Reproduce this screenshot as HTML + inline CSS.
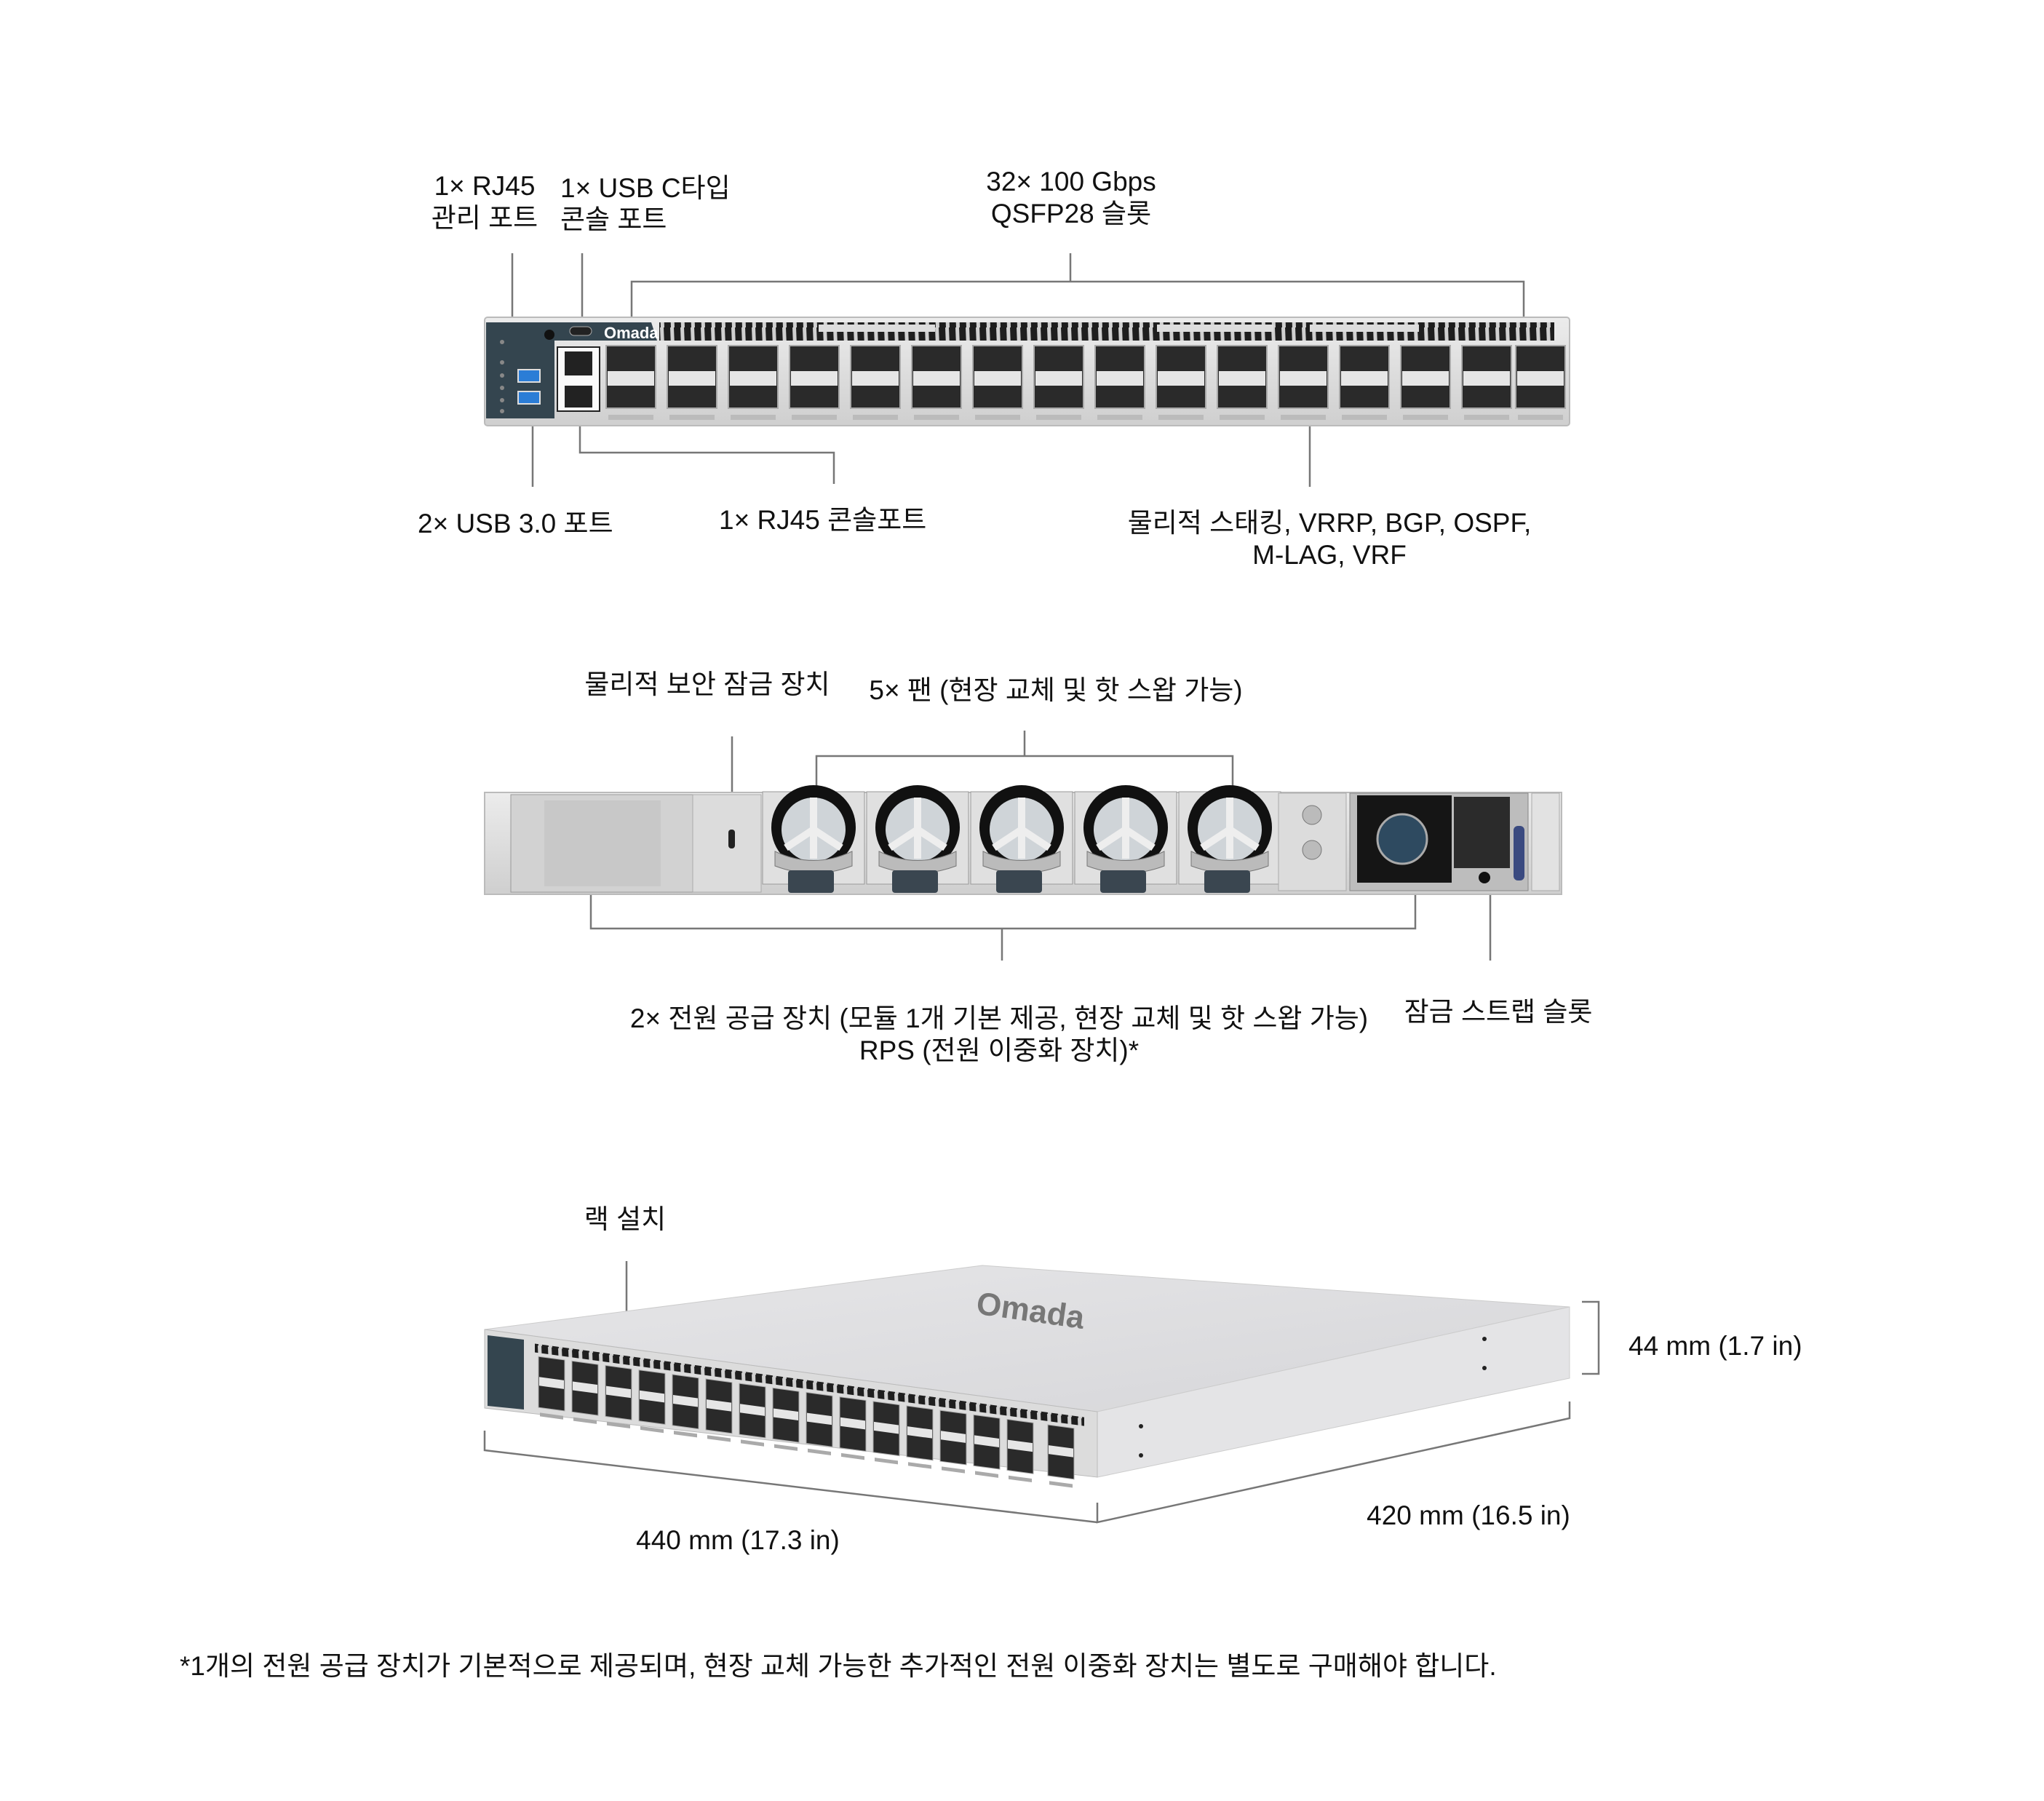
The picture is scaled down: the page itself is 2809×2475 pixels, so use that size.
<!DOCTYPE html>
<html><head><meta charset="utf-8"><style>
html,body{margin:0;padding:0;background:#fff}
svg{display:block}
text{font-family:"Liberation Sans","Noto Sans CJK KR",sans-serif;font-size:37px;fill:#111}
</style></head><body>
<svg width="2809" height="2475" viewBox="0 0 2809 2475" xmlns="http://www.w3.org/2000/svg">
<defs>
<linearGradient id="g1" x1="0" y1="0" x2="0" y2="1"><stop offset="0" stop-color="#ececec"/><stop offset="1" stop-color="#cfcfcf"/></linearGradient>
<linearGradient id="top" x1="0" y1="0" x2="1" y2="1"><stop offset="0" stop-color="#e6e6e8"/><stop offset="1" stop-color="#d6d6d9"/></linearGradient>
<pattern id="vent" x="0" y="0" width="14" height="25" patternUnits="userSpaceOnUse">
<rect width="14" height="25" fill="#d0d0d0"/><polygon points="2,0 11,0 12,25 3,25" fill="#1e1e1e"/>
</pattern>
</defs>
<g stroke="#777" stroke-width="2.5" fill="none">
<polyline points="704,348 704,494 770,494"/>
<polyline points="800,348 800,452"/>
<polyline points="1471,348 1471,387"/>
<polyline points="868,473 868,387 2094,387 2094,473"/>
<polyline points="732,555 732,669"/>
<polyline points="797,565 797,622 1146,622 1146,665"/>
<polyline points="1800,585 1800,669"/>
<polyline points="1006,1012 1006,1165"/>
<polyline points="1408,1004 1408,1039"/>
<polyline points="1122,1088 1122,1039 1694,1039 1694,1088"/>
<polyline points="812,1218 812,1276 1945,1276 1945,1218"/>
<polyline points="1377,1276 1377,1320"/>
<polyline points="2048,1210 2048,1320"/>
<polyline points="861,1733 861,1805"/>
<polyline points="666,1966 666,1993 1508,2092"/>
<polyline points="1508,2065 1508,2092 2157,1949 2157,1926"/>
<polyline points="2174,1789 2197,1789 2197,1888 2174,1888"/>
</g>

<!-- FRONT PANEL -->
<rect x="666" y="436" width="1491" height="149" rx="4" fill="url(#g1)" stroke="#bbb" stroke-width="2"/>
<path d="M668,443 H895 L903,468 H762 V575 H668 Z" fill="#34454f"/>
<text x="830" y="465" style="font-size:22px;fill:#fff;font-weight:bold">Omada</text>
<rect x="783" y="449" width="30" height="12" rx="6" fill="#222" stroke="#aaa"/>
<circle cx="755" cy="460" r="7" fill="#111"/>
<rect x="712" y="508" width="30" height="17" fill="#2b7dd6" stroke="#ddd" stroke-width="2"/>
<rect x="712" y="538" width="30" height="17" fill="#2b7dd6" stroke="#ddd" stroke-width="2"/>
<g fill="#888"><circle cx="690" cy="470" r="3"/><circle cx="690" cy="498" r="3"/><circle cx="690" cy="516" r="3"/><circle cx="690" cy="533" r="3"/><circle cx="690" cy="550" r="3"/><circle cx="690" cy="565" r="3"/></g>
<rect x="766" y="477" width="58" height="88" fill="#fafafa" stroke="#222" stroke-width="2"/>
<rect x="776" y="483" width="38" height="33" fill="#222"/>
<rect x="776" y="530" width="38" height="30" fill="#222"/>
<rect x="906" y="443" width="1230" height="25" fill="url(#vent)"/>
<rect x="1125" y="446" width="160" height="10" fill="#ddd"/>
<rect x="1590" y="446" width="160" height="10" fill="#ddd"/>
<rect x="1800" y="446" width="150" height="10" fill="#ddd"/>
<g id="c0"><rect x="833" y="475" width="68" height="86" fill="#2a2a2a" stroke="#aaa" stroke-width="2"/><rect x="835" y="510" width="64" height="20" fill="#e6e6e6"/><rect x="836" y="570" width="62" height="7" fill="#bbb"/></g>
<use href="#c0" x="84"/><use href="#c0" x="168"/><use href="#c0" x="252"/><use href="#c0" x="336"/><use href="#c0" x="420"/><use href="#c0" x="504"/><use href="#c0" x="588"/><use href="#c0" x="672"/><use href="#c0" x="756"/><use href="#c0" x="840"/><use href="#c0" x="924"/><use href="#c0" x="1008"/><use href="#c0" x="1092"/><use href="#c0" x="1176"/><use href="#c0" x="1250"/>

<!-- REAR PANEL -->
<rect x="666" y="1089" width="1480" height="140" fill="url(#g1)" stroke="#bbb" stroke-width="2"/>
<rect x="702" y="1092" width="250" height="134" fill="#d2d2d2" stroke="#999"/>
<rect x="748" y="1100" width="160" height="118" fill="#c8c8c8"/>
<rect x="952" y="1092" width="94" height="134" fill="#dcdcdc" stroke="#aaa"/>
<rect x="1001" y="1140" width="9" height="26" rx="4" fill="#222"/>
<g id="fan">
<rect x="1048" y="1088" width="140" height="127" fill="#e0e0e0" stroke="#999"/>
<circle cx="1118" cy="1137" r="58" fill="#111"/>
<circle cx="1118" cy="1140" r="44" fill="#cfd4d8"/>
<path d="M1118,1096 V1180 M1080,1165 L1118,1140 L1156,1165" stroke="#eee" stroke-width="10" fill="none"/>
<path d="M1065,1170 Q1118,1195 1171,1170 V1190 Q1118,1210 1065,1190 Z" fill="#bbb" stroke="#777"/>
<rect x="1083" y="1196" width="63" height="31" rx="4" fill="#3a4650"/>
</g>
<use href="#fan" x="143"/><use href="#fan" x="286"/><use href="#fan" x="429"/><use href="#fan" x="572"/>
<rect x="1757" y="1090" width="93" height="134" fill="#dcdcdc" stroke="#aaa"/>
<circle cx="1803" cy="1120" r="13" fill="#bbb" stroke="#777"/><circle cx="1803" cy="1168" r="13" fill="#bbb" stroke="#777"/>
<rect x="1855" y="1090" width="245" height="134" fill="#bdbdbd" stroke="#888"/>
<rect x="1865" y="1093" width="130" height="120" fill="#151515"/>
<circle cx="1927" cy="1153" r="34" fill="#2e4a60" stroke="#aaa" stroke-width="3"/>
<rect x="1998" y="1095" width="77" height="98" fill="#2b2b2b"/>
<circle cx="2040" cy="1206" r="8" fill="#111"/>
<rect x="2080" y="1135" width="15" height="75" rx="6" fill="#3a4a80"/>
<rect x="2105" y="1090" width="38" height="134" fill="#e2e2e2" stroke="#aaa"/>

<!-- 3D BOX -->
<polygon points="666,1827 1350,1739 2157,1796 1508,1940" fill="url(#top)" stroke="#ccc"/>
<polygon points="1508,1940 2157,1796 2157,1894 1508,2030" fill="#e4e4e6" stroke="#ccc"/>
<polygon points="666,1827 1508,1940 1508,2030 666,1935" fill="#dcdcdc" stroke="#bbb"/>
<text x="1340" y="1822" transform="rotate(8 1460 1815)" style="font-size:44px;fill:#777;font-weight:bold">Omada</text>
<polygon points="670,1835 720,1841 720,1937 670,1932" fill="#34454f"/>
<g transform="matrix(1,0.134,0,1,0,0)">
<rect x="735" y="1748" width="755" height="12" fill="url(#vent)"/>
<g id="p3"><rect x="740" y="1765" width="36" height="70" fill="#2a2a2a" stroke="#aaa"/><rect x="741" y="1793" width="34" height="12" fill="#e6e6e6"/><rect x="742" y="1842" width="32" height="5" fill="#aaa"/></g>
<use href="#p3" x="46"/><use href="#p3" x="92"/><use href="#p3" x="138"/><use href="#p3" x="184"/><use href="#p3" x="230"/><use href="#p3" x="276"/><use href="#p3" x="322"/><use href="#p3" x="368"/><use href="#p3" x="414"/><use href="#p3" x="460"/><use href="#p3" x="506"/><use href="#p3" x="552"/><use href="#p3" x="598"/><use href="#p3" x="644"/><use href="#p3" x="700"/>
</g>
<g fill="#222"><circle cx="1568" cy="1960" r="3"/><circle cx="1568" cy="2000" r="3"/><circle cx="2040" cy="1840" r="3"/><circle cx="2040" cy="1880" r="3"/></g>

<!-- LABELS -->
<g text-anchor="middle">
<text x="666" y="268">1× RJ45</text>
<text x="666" y="312">관리 포트</text>
<text x="1472" y="262">32× 100 Gbps</text>
<text x="1472" y="306">QSFP28 슬롯</text>
<text x="1827" y="731">물리적 스태킹, VRRP, BGP, OSPF,</text>
<text x="1827" y="775">M-LAG, VRF</text>
<text x="972" y="953">물리적 보안 잠금 장치</text>
<text x="1451" y="961">5× 팬 (현장 교체 및 핫 스왑 가능)</text>
<text x="1373" y="1412">2× 전원 공급 장치 (모듈 1개 기본 제공, 현장 교체 및 핫 스왑 가능)</text>
<text x="1373" y="1456">RPS (전원 이중화 장치)*</text>
<text x="2059" y="1403">잠금 스트랩 슬롯</text>
<text x="859" y="1688">랙 설치</text>
<text x="2018" y="2095">420 mm (16.5 in)</text>
<text x="1014" y="2129">440 mm (17.3 in)</text>
</g>
<text x="770" y="271">1× USB C타입</text>
<text x="770" y="314">콘솔 포트</text>
<text x="574" y="732">2× USB 3.0 포트</text>
<text x="988" y="727">1× RJ45 콘솔포트</text>
<text x="2238" y="1862">44 mm (1.7 in)</text>
<text x="247" y="2302">*1개의 전원 공급 장치가 기본적으로 제공되며, 현장 교체 가능한 추가적인 전원 이중화 장치는 별도로 구매해야 합니다.</text>
</svg>
</body></html>
